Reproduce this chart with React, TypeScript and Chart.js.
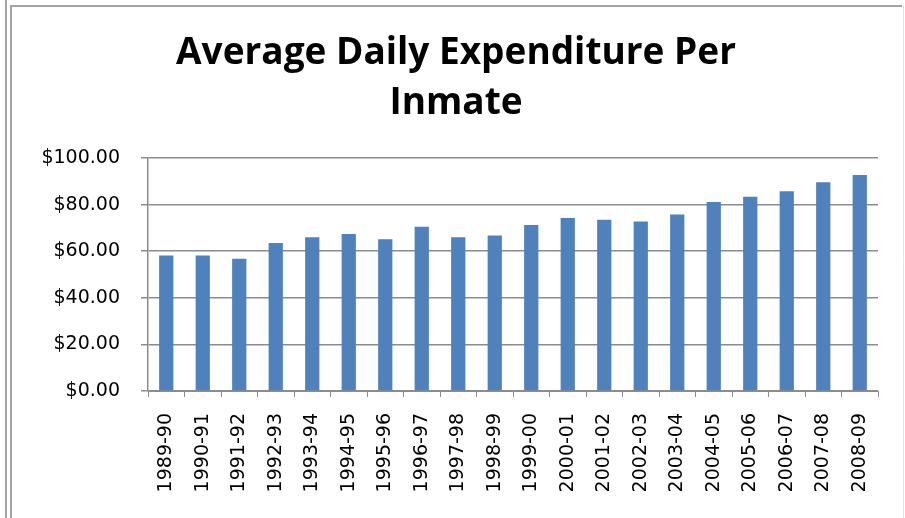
import React, { useEffect, useRef } from "react";
import { Chart, registerables } from "chart.js";

Chart.register(...registerables);

const categories: string[] = [
  "1989-90", "1990-91", "1991-92", "1992-93", "1993-94", "1994-95", "1995-96",
  "1996-97", "1997-98", "1998-99", "1999-00", "2000-01", "2001-02", "2002-03",
  "2003-04", "2004-05", "2005-06", "2006-07", "2007-08", "2008-09",
];

const expenditure: number[] = [
  58.2, 58.2, 56.8, 63.5, 66.0, 67.4, 65.1, 70.5, 66.0, 66.7,
  71.2, 74.2, 73.5, 72.8, 75.8, 81.1, 83.4, 85.7, 89.6, 92.7,
];

const titleLines: string[] = ["Average Daily Expenditure Per", "Inmate"];

const yMin = 0;
const yMax = 100;
const yStep = 20;

const framePlugin = {
  id: "frameLines",
  beforeDraw(chart: any) {
    const ctx = chart.ctx;
    ctx.save();
    ctx.strokeStyle = "#a4a4a4";
    ctx.lineWidth = 2;
    ctx.beginPath();
    ctx.moveTo(6, 0);
    ctx.lineTo(6, 518);
    ctx.moveTo(11, 5);
    ctx.lineTo(11, 518);
    ctx.moveTo(10, 6);
    ctx.lineTo(902, 6);
    ctx.stroke();
    ctx.strokeStyle = "#e4e4e4";
    ctx.lineWidth = 1;
    ctx.beginPath();
    ctx.moveTo(903.5, 5);
    ctx.lineTo(903.5, 518);
    ctx.stroke();
    ctx.restore();
  },
};

export default function App() {
  const canvasRef = useRef<HTMLCanvasElement | null>(null);

  useEffect(() => {
    if (!canvasRef.current) return;
    const chart = new Chart(canvasRef.current, {
      type: "bar",
      data: {
        labels: categories,
        datasets: [
          {
            label: "Average Daily Expenditure Per Inmate",
            data: expenditure,
            backgroundColor: "#4F81BD",
            borderWidth: 0,
            barPercentage: 0.39,
            categoryPercentage: 1.0,
          },
        ],
      },
      options: {
        animation: false,
        responsive: false,
        maintainAspectRatio: false,
        layout: { padding: { left: 34, right: 27, top: 0, bottom: 0 } },
        plugins: {
          legend: { display: false },
          tooltip: { enabled: false },
          title: {
            display: true,
            text: titleLines,
            color: "#000000",
            font: { family: "'Open Sans', Lato, sans-serif", size: 37, weight: "bold", lineHeight: "50px" },
            padding: { top: 28, bottom: 30 },
          },
        },
        scales: {
          x: {
            grid: {
              display: true,
              drawOnChartArea: false,
              drawTicks: true,
              tickLength: 6,
              color: "#8c8c8c",
              offset: true,
            },
            border: { display: true, color: "#8c8c8c", width: 1 },
            ticks: {
              maxRotation: 90,
              minRotation: 90,
              autoSkip: false,
              padding: 16,
              color: "#000000",
              font: { family: "'DejaVu Sans', sans-serif", size: 19 },
            },
            afterFit: (scale: any) => {
              scale.height = 127;
            },
          },
          y: {
            min: yMin,
            max: yMax,
            grid: {
              color: "#8c8c8c",
              lineWidth: 1.5,
              drawTicks: true,
              tickLength: 7,
            },
            border: { display: true, color: "#8c8c8c", width: 1.5 },
            ticks: {
              stepSize: yStep,
              padding: 21,
              color: "#000000",
              font: { family: "'DejaVu Sans', sans-serif", size: 19 },
              callback: (v: any) => "$" + Number(v).toFixed(2),
            },
            afterFit: (scale: any) => {
              scale.width = 114;
            },
          },
        },
      },
      plugins: [framePlugin],
    });
    return () => chart.destroy();
  }, []);

  return (
    <div style={{ position: "absolute", left: 0, top: 0, width: 905, height: 518, background: "#ffffff" }}>
      <canvas ref={canvasRef} width={905} height={518} style={{ display: "block", width: 905, height: 518 }} />
    </div>
  );
}
